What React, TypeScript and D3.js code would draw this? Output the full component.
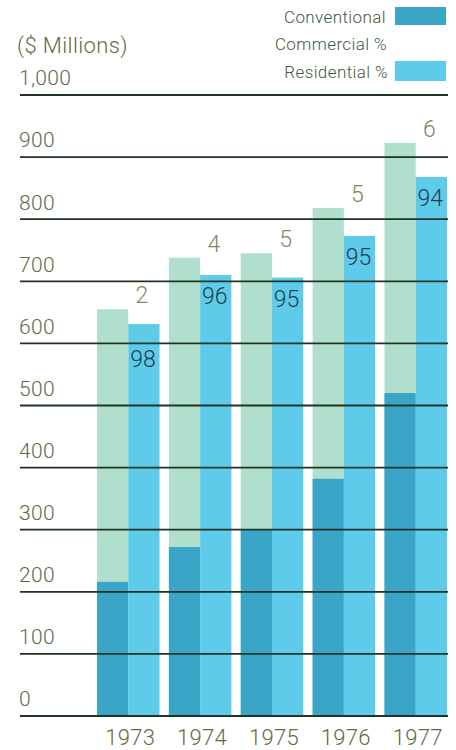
import * as d3 from 'd3';

const W = 456;
const H = 750;

const years = ['1973', '1974', '1975', '1976', '1977'];
// left bar: total, with conventional part at its base
const totalLoans = [655, 738, 745, 818, 923];
const conventional = [216, 272, 300, 382, 520];
// right bar: residential
const residential = [631, 710, 706, 773, 868];
const commercialPct = [2, 4, 5, 5, 6];
const residentialPct = [98, 96, 95, 95, 94];
const yTicks = [0, 100, 200, 300, 400, 500, 600, 700, 800, 900, 1000];

const colors = {
  conv: '#3ba5c8',
  resid: '#5ecbeb',
  total: '#b0e0cd',
  grid: '#1d3522',
  axisText: '#5d6d45',
  legendText: '#3d5a3c',
  commText: '#7a8a5c',
  resText: '#23404a',
};

const font = 'Roboto, "Liberation Sans", sans-serif';

export default function App() {
  const y = d3.scaleLinear().domain([0, 1000]).range([716, 95]);
  const x = d3.scaleBand<string>().domain(years).range([97, 447]).paddingInner(0.13).paddingOuter(0);
  const sub = d3.scaleBand<string>().domain(['left', 'right']).range([0, x.bandwidth()]);
  const bw = sub.bandwidth();
  const gx0 = 20;
  const gx1 = 448;

  // push a residential label below any gridline it would sit on
  const resLabelY = (v: number) => {
    let cy = y(v) + 21;
    for (const t of yTicks) {
      const gy = y(t);
      if (cy - 10 < gy + 1 && cy + 10 > gy - 1) cy = gy + 16;
    }
    return cy;
  };

  return (
    <>
      <style>{'body{margin:0}'}</style>
      <svg width={W} height={H} viewBox={`0 0 ${W} ${H}`} style={{ display: 'block', background: '#fff' }}>
        {/* legend */}
        <g fontFamily={font} fontWeight={300} fontSize={17} letterSpacing={0.4} fill={colors.legendText} textAnchor="end">
          <text x={386} y={17} dy="0.35em">Conventional</text>
          <rect x={395} y={7} width={51} height={18} fill={colors.conv} />
          <text x={387} y={44} dy="0.35em">Commercial %</text>
          <text x={388} y={72} dy="0.35em">Residential %</text>
          <rect x={395} y={61} width={51} height={20} fill={colors.resid} />
        </g>
        <text x={17} y={45} dy="0.35em" fontFamily={font} fontWeight={300} fontSize={22} letterSpacing={0.4} fill={colors.axisText}>
          ($ Millions)
        </text>

        {/* bars */}
        {years.map((yr, i) => {
          const x0 = x(yr)!;
          const lx = x0 + sub('left')!;
          const rx = x0 + sub('right')!;
          return (
            <g key={yr}>
              <rect x={lx} y={y(totalLoans[i])} width={bw} height={y(0) - y(totalLoans[i])} fill={colors.total} />
              <rect x={lx} y={y(conventional[i])} width={bw} height={y(0) - y(conventional[i])} fill={colors.conv} />
              <rect x={rx} y={y(residential[i])} width={bw} height={y(0) - y(residential[i])} fill={colors.resid} />
            </g>
          );
        })}

        {/* gridlines + tick labels */}
        {yTicks.map((t) => (
          <g key={t}>
            <line x1={gx0} x2={gx1} y1={y(t)} y2={y(t)} stroke={colors.grid} strokeWidth={1.8} />
            <text
              x={19}
              y={y(t) - 17}
              dy="0.35em"
              fontFamily={font}
              fontWeight={300}
              fontSize={21}
              letterSpacing={0.3}
              fill={colors.axisText}
            >
              {d3.format(',')(t)}
            </text>
          </g>
        ))}

        {/* percent labels */}
        {years.map((yr, i) => {
          const cx = x(yr)! + sub('right')! + bw / 2;
          return (
            <g key={'p' + yr} fontFamily={font} fontWeight={300} fontSize={23} textAnchor="middle">
              <text x={cx - 2} y={y(totalLoans[i]) - 14} dy="0.35em" fill={colors.commText}>
                {commercialPct[i]}
              </text>
              <text x={cx - 1} y={resLabelY(residential[i])} dy="0.35em" fill={colors.resText}>
                {residentialPct[i]}
              </text>
            </g>
          );
        })}

        {/* year labels */}
        {years.map((yr) => (
          <text
            key={'y' + yr}
            x={x(yr)! + x.bandwidth() / 2 + 2}
            y={737}
            dy="0.35em"
            textAnchor="middle"
            fontFamily={font}
            fontWeight={300}
            fontSize={22}
            letterSpacing={0.3}
            fill={colors.axisText}
          >
            {yr}
          </text>
        ))}
      </svg>
    </>
  );
}
